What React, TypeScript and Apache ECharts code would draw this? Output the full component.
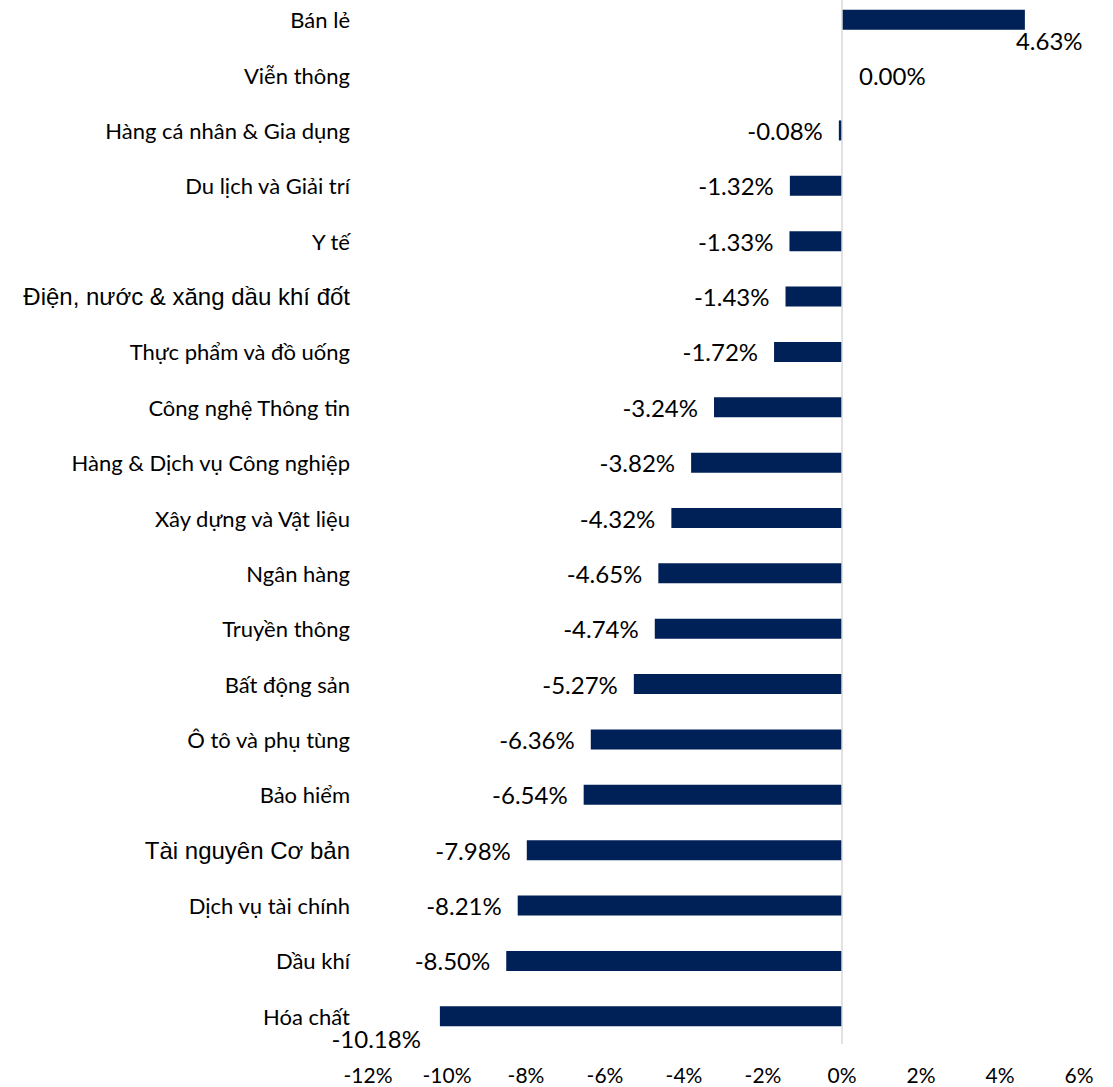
import React, { useEffect, useRef } from "react";
import * as echarts from "echarts";

const categories: string[] = [
  "Bán lẻ",
  "Viễn thông",
  "Hàng cá nhân & Gia dụng",
  "Du lịch và Giải trí",
  "Y tế",
  "Điện, nước & xăng dầu khí đốt",
  "Thực phẩm và đồ uống",
  "Công nghệ Thông tin",
  "Hàng & Dịch vụ Công nghiệp",
  "Xây dựng và Vật liệu",
  "Ngân hàng",
  "Truyền thông",
  "Bất động sản",
  "Ô tô và phụ tùng",
  "Bảo hiểm",
  "Tài nguyên Cơ bản",
  "Dịch vụ tài chính",
  "Dầu khí",
  "Hóa chất",
];

const values: number[] = [
  4.63, 0.0, -0.08, -1.32, -1.33, -1.43, -1.72, -3.24, -3.82, -4.32, -4.65,
  -4.74, -5.27, -6.36, -6.54, -7.98, -8.21, -8.5, -10.18,
];

const xMin = -12;
const xMax = 6;
const xStep = 2;

const arialCategories = ["Điện, nước & xăng dầu khí đốt", "Tài nguyên Cơ bản"];

const BODY_FONT = "Lato, 'Noto Sans', sans-serif";
const ARIAL_FONT = "'Liberation Sans', Arial, sans-serif";

export default function App() {
  const ref = useRef<HTMLDivElement>(null);

  useEffect(() => {
    if (!ref.current) return;
    const chart = echarts.init(ref.current, undefined, { renderer: "svg" });

    const fmt = (v: number) => v.toFixed(2) + "%";

    const seriesData = values.map((v, i) => {
      const name = categories[i];
      let label: any = { position: "left", distance: 16 };
      if (v > 0) {
        label = {
          position: ["100%", "100%"],
          align: "left",
          verticalAlign: "top",
          offset: [-9, -1],
        };
      } else if (v === 0) {
        label = { position: "right", distance: 17 };
      } else if (i === values.length - 1) {
        label = {
          position: ["0%", "100%"],
          align: "right",
          verticalAlign: "top",
          offset: [-19, 0],
        };
      }
      return { value: v, name, label };
    });

    chart.setOption({
      animation: false,
      grid: { left: 368, right: 34, top: 0, bottom: 43, containLabel: false },
      xAxis: {
        type: "value",
        min: xMin,
        max: xMax,
        interval: xStep,
        axisLine: { show: false },
        axisTick: { show: false },
        splitLine: { show: false },
        axisLabel: {
          formatter: (v: number) => v + "%",
          fontFamily: BODY_FONT,
          fontSize: 21,
          color: "#000",
          margin: 20,
        },
      },
      yAxis: {
        type: "category",
        inverse: true,
        data: categories.map((c) =>
          arialCategories.includes(c)
            ? { value: c, textStyle: { fontFamily: ARIAL_FONT, fontSize: 24 } }
            : { value: c }
        ),
        axisLine: { show: false },
        axisTick: { show: false },
        splitLine: { show: false },
        axisLabel: {
          fontFamily: BODY_FONT,
          fontSize: 22,
          color: "#000",
          margin: 18,
        },
      },
      series: [
        {
          type: "bar",
          data: seriesData,
          barWidth: 20,
          itemStyle: { color: "#002157" },
          label: {
            show: true,
            formatter: (p: any) => fmt(p.value),
            fontFamily: BODY_FONT,
            fontSize: 24,
            color: "#000",
          },
          markLine: {
            silent: true,
            symbol: ["none", "none"],
            label: { show: false },
            lineStyle: { color: "#d9d9d9", width: 1.5, type: "solid" },
            data: [{ xAxis: 0 }],
          },
        },
      ],
    });

    return () => chart.dispose();
  }, []);

  return (
    <div
      ref={ref}
      style={{ position: "absolute", left: 0, top: -8, width: 1113, height: 1095 }}
    />
  );
}
